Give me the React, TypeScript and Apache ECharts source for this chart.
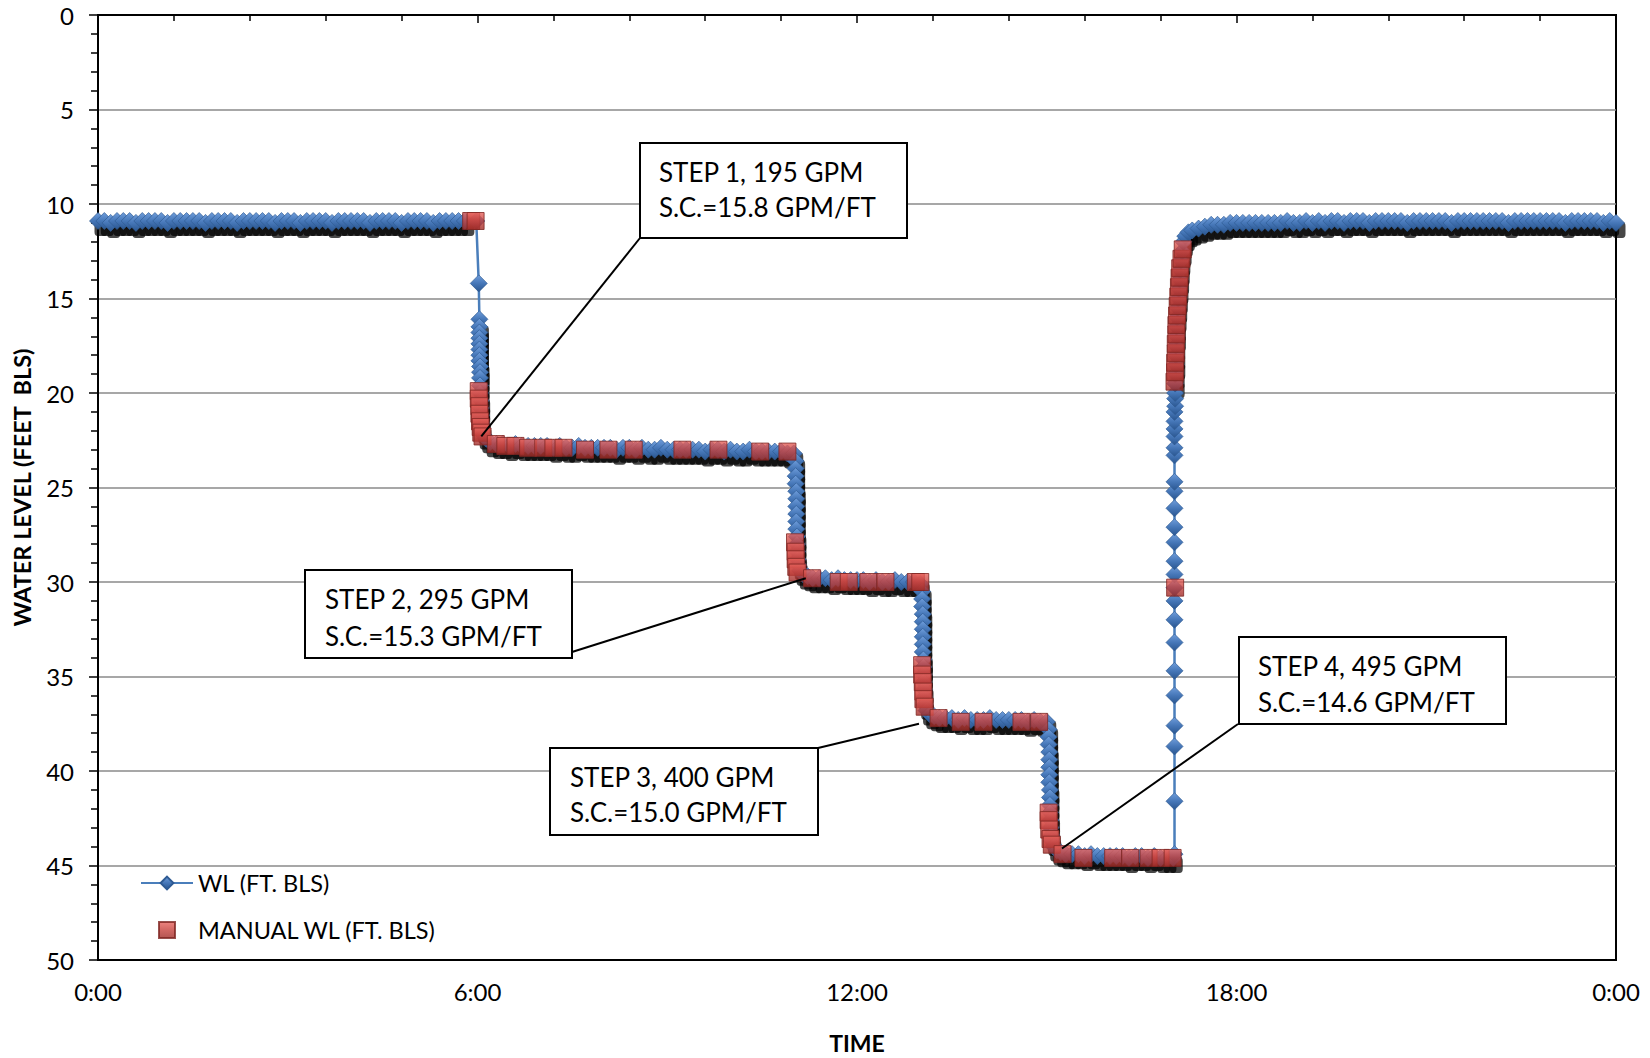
import React, { useEffect, useRef } from "react";
import * as echarts from "echarts";

// ---------- axis ticks ----------
const xTickHours = [0, 6, 12, 18, 24];
const xTickLabels = ["0:00", "6:00", "12:00", "18:00", "0:00"];
const yMin = 0;
const yMax = 50;
const yStep = 5;

// ---------- series names ----------
const seriesNames = ["WL (FT. BLS)", "MANUAL WL (FT. BLS)"];

// ---------- WL (transducer) readings [hour, ft bls] ----------
const wlPumpOff: [number, number][] = [
  [0.0, 10.9], [0.1, 10.9], [0.2, 11.0], [0.3, 10.9], [0.4, 10.9], [0.5, 10.9], [0.6, 11.0], [0.7, 10.9],
  [0.8, 10.9], [0.9, 10.9], [1.0, 10.9], [1.1, 11.0], [1.2, 10.9], [1.3, 10.9], [1.4, 10.9], [1.5, 10.9],
  [1.6, 10.9], [1.7, 11.0], [1.8, 10.9], [1.9, 10.9], [2.0, 10.9], [2.1, 10.9], [2.2, 11.0], [2.3, 10.9],
  [2.4, 10.9], [2.5, 10.9], [2.6, 10.9], [2.7, 10.9], [2.8, 11.0], [2.9, 10.9], [3.0, 10.9], [3.1, 10.9],
  [3.2, 11.0], [3.3, 10.9], [3.4, 10.9], [3.5, 10.9], [3.6, 10.9], [3.7, 11.0], [3.8, 10.9], [3.9, 10.9],
  [4.0, 10.9], [4.1, 10.9], [4.2, 10.9], [4.3, 11.0], [4.4, 10.9], [4.5, 10.9], [4.6, 10.9], [4.7, 10.9],
  [4.8, 11.0], [4.9, 10.9], [5.0, 10.9], [5.1, 10.9], [5.2, 10.9], [5.3, 11.0], [5.4, 10.9], [5.5, 10.9],
  [5.6, 10.9], [5.7, 10.9], [5.8, 10.9],
];
const wlPumpStartSparse: [number, number][] = [
  [5.98, 10.9], [6.02, 14.2], [6.03, 16.1],
];
const wlStep1: [number, number][] = [
  [6.03, 16.5], [6.03, 16.8], [6.03, 17.1], [6.03, 17.4], [6.03, 17.7], [6.03, 18.0], [6.03, 18.3],
  [6.04, 18.6], [6.04, 18.9], [6.04, 19.2], [6.04, 19.6], [6.04, 20.0], [6.05, 20.4], [6.05, 20.8],
  [6.05, 21.2], [6.06, 21.6], [6.07, 21.9], [6.09, 22.2], [6.13, 22.4], [6.2, 22.6],
  [6.3, 22.7], [6.4, 22.7], [6.5, 22.8], [6.6, 22.7], [6.7, 22.8], [6.8, 22.8], [6.9, 22.8], [7.0, 22.8],
  [7.1, 22.8], [7.2, 22.9], [7.3, 22.8], [7.4, 22.9], [7.5, 22.9], [7.6, 22.8], [7.7, 22.9], [7.8, 22.9],
  [7.9, 22.9], [8.0, 22.9], [8.1, 22.9], [8.2, 23.0], [8.3, 22.9], [8.4, 22.9], [8.5, 23.0], [8.6, 22.9],
  [8.7, 23.0], [8.8, 23.0], [8.9, 22.9], [9.0, 23.0], [9.1, 23.0], [9.2, 23.0], [9.3, 23.0], [9.4, 23.0],
  [9.5, 23.0], [9.6, 23.1], [9.7, 23.0], [9.8, 23.0], [9.9, 23.1], [10.0, 23.0], [10.1, 23.1], [10.2, 23.1],
  [10.3, 23.0], [10.4, 23.1], [10.5, 23.1], [10.6, 23.1], [10.7, 23.1], [10.8, 23.1], [10.9, 23.2], [11.0, 23.2],
];
const wlStep2: [number, number][] = [
  [11.03, 23.6], [11.03, 24.0], [11.03, 24.4], [11.03, 24.8], [11.04, 25.2], [11.04, 25.6], [11.04, 26.0],
  [11.04, 26.4], [11.04, 26.8], [11.04, 27.2], [11.05, 27.6], [11.05, 28.0], [11.05, 28.4], [11.06, 28.8],
  [11.07, 29.1], [11.1, 29.4], [11.15, 29.6], [11.22, 29.7], [11.3, 29.8],
  [11.4, 29.8], [11.5, 29.8], [11.6, 29.9], [11.7, 29.8], [11.8, 29.9], [11.9, 29.9], [12.0, 29.9],
  [12.1, 29.9], [12.2, 30.0], [12.3, 29.9], [12.4, 30.0], [12.5, 30.0], [12.6, 29.9], [12.7, 30.0],
  [12.8, 30.0], [12.9, 30.0], [13.0, 30.1],
];
const wlStep3: [number, number][] = [
  [13.03, 30.5], [13.03, 30.9], [13.03, 31.3], [13.04, 31.7], [13.04, 32.1], [13.04, 32.5], [13.04, 32.9],
  [13.04, 33.3], [13.04, 33.7], [13.05, 34.1], [13.05, 34.5], [13.05, 34.9], [13.05, 35.3], [13.06, 35.7],
  [13.06, 36.1], [13.07, 36.5], [13.1, 36.8], [13.15, 37.0], [13.22, 37.1], [13.3, 37.2],
  [13.4, 37.2], [13.5, 37.2], [13.6, 37.3], [13.7, 37.2], [13.8, 37.3], [13.9, 37.3], [14.0, 37.3],
  [14.1, 37.2], [14.2, 37.3], [14.3, 37.3], [14.4, 37.3], [14.5, 37.3], [14.6, 37.3], [14.7, 37.4],
  [14.8, 37.3], [14.9, 37.4], [15.0, 37.4],
];
const wlStep4: [number, number][] = [
  [15.03, 37.8], [15.03, 38.2], [15.03, 38.6], [15.04, 39.0], [15.04, 39.4], [15.04, 39.8], [15.04, 40.2],
  [15.04, 40.6], [15.05, 41.0], [15.05, 41.4], [15.05, 41.8], [15.05, 42.2], [15.06, 42.6], [15.06, 43.0],
  [15.07, 43.4], [15.08, 43.7], [15.11, 44.0], [15.16, 44.2], [15.22, 44.3], [15.3, 44.4],
  [15.4, 44.4], [15.5, 44.4], [15.6, 44.5], [15.7, 44.4], [15.8, 44.5], [15.9, 44.5], [16.0, 44.5],
  [16.1, 44.5], [16.2, 44.5], [16.3, 44.6], [16.4, 44.5], [16.5, 44.5], [16.6, 44.6], [16.7, 44.5],
  [16.8, 44.6], [16.9, 44.6], [17.0, 44.6],
];
const wlRecoverySparse: [number, number][] = [
  [17.02, 44.4], [17.02, 41.6], [17.02, 38.7], [17.02, 37.6], [17.02, 36.0], [17.02, 34.7], [17.02, 33.2],
  [17.02, 32.0], [17.02, 31.0], [17.02, 30.3], [17.02, 29.6], [17.02, 28.9], [17.02, 27.9], [17.02, 27.1],
  [17.02, 26.1], [17.02, 25.2], [17.02, 24.7], [17.02, 23.3], [17.02, 22.9], [17.02, 22.3], [17.02, 21.9],
  [17.02, 21.5], [17.02, 21.0], [17.03, 20.7], [17.03, 20.3], [17.03, 20.0],
];
const wlRecovery: [number, number][] = [
  [17.03, 19.5], [17.03, 19.0], [17.04, 18.5], [17.04, 18.0], [17.04, 17.5], [17.05, 17.0], [17.05, 16.5],
  [17.06, 16.0], [17.07, 15.5], [17.08, 15.0], [17.09, 14.5], [17.1, 14.0], [17.11, 13.5], [17.12, 13.0],
  [17.14, 12.5], [17.16, 12.0], [17.19, 11.7], [17.24, 11.5], [17.3, 11.4], [17.4, 11.3], [17.5, 11.2],
  [17.6, 11.1], [17.7, 11.1],
  [17.8, 11.1], [17.9, 11.0], [18.0, 11.0], [18.1, 11.0], [18.2, 11.0], [18.3, 11.0], [18.4, 11.0],
  [18.5, 11.0], [18.6, 11.0], [18.7, 11.0], [18.8, 10.9], [18.9, 11.0], [19.0, 11.0], [19.1, 10.9],
  [19.2, 11.0], [19.3, 10.9], [19.4, 11.0], [19.5, 10.9], [19.6, 10.9], [19.7, 11.0], [19.8, 10.9],
  [19.9, 10.9], [20.0, 10.9], [20.1, 11.0], [20.2, 10.9], [20.3, 10.9], [20.4, 10.9], [20.5, 10.9],
  [20.6, 10.9], [20.7, 11.0], [20.8, 10.9], [20.9, 10.9], [21.0, 10.9], [21.1, 10.9], [21.2, 10.9],
  [21.3, 10.9], [21.4, 11.0], [21.5, 10.9], [21.6, 10.9], [21.7, 10.9], [21.8, 10.9], [21.9, 10.9],
  [22.0, 10.9], [22.1, 10.9], [22.2, 10.9], [22.3, 11.0], [22.4, 10.9], [22.5, 10.9], [22.6, 10.9],
  [22.7, 10.9], [22.8, 10.9], [22.9, 10.9], [23.0, 10.9], [23.1, 10.9], [23.2, 11.0], [23.3, 10.9],
  [23.4, 10.9], [23.5, 10.9], [23.6, 10.9], [23.7, 10.9], [23.8, 11.0], [23.9, 10.9], [24.0, 11.0],
];

// ---------- MANUAL WL readings [hour, ft bls] ----------
const manualPumpOff: [number, number][] = [[5.9, 10.9], [5.97, 10.9]];
const manualStep1: [number, number][] = [
  [6.02, 19.9], [6.02, 20.3], [6.03, 20.7], [6.03, 21.1], [6.04, 21.5], [6.05, 21.8], [6.06, 22.1], [6.08, 22.3],
  [6.29, 22.7], [6.44, 22.8], [6.6, 22.8], [6.8, 22.9], [7.04, 22.9], [7.2, 22.9], [7.36, 22.9], [7.7, 23.0],
  [8.07, 23.0], [8.47, 23.0], [9.24, 23.0], [9.81, 23.0], [10.47, 23.1], [10.9, 23.1],
];
const manualStep2: [number, number][] = [
  [11.02, 27.9], [11.03, 28.4], [11.03, 28.8], [11.04, 29.2], [11.06, 29.5], [11.29, 29.8],
  [11.71, 30.0], [11.87, 30.0], [12.18, 30.0], [12.45, 30.0], [12.93, 30.0], [13.0, 30.0],
];
const manualStep3: [number, number][] = [
  [13.03, 34.4], [13.03, 34.9], [13.04, 35.3], [13.05, 35.8], [13.05, 36.2], [13.07, 36.6],
  [13.29, 37.2], [13.64, 37.4], [14.0, 37.4], [14.6, 37.4], [14.88, 37.4],
];
const manualStep4: [number, number][] = [
  [15.03, 42.2], [15.03, 42.6], [15.04, 43.1], [15.06, 43.6], [15.08, 43.9], [15.25, 44.4],
  [15.58, 44.6], [16.05, 44.6], [16.32, 44.6], [16.61, 44.6], [16.8, 44.6], [16.99, 44.6],
];
const manualRecovery: [number, number][] = [
  [17.03, 30.3], [17.02, 19.4], [17.03, 18.9], [17.03, 18.4], [17.04, 17.9], [17.04, 17.4], [17.05, 16.9],
  [17.05, 16.4], [17.06, 15.9], [17.07, 15.4], [17.08, 14.9], [17.09, 14.4], [17.1, 13.9], [17.11, 13.4],
  [17.13, 12.9], [17.15, 12.4],
];

// ---------- annotations ----------
const annotationTexts: [string, string][] = [
  ["STEP 1, 195 GPM", "S.C.=15.8 GPM/FT"],
  ["STEP 2, 295 GPM", "S.C.=15.3 GPM/FT"],
  ["STEP 3, 400 GPM", "S.C.=15.0 GPM/FT"],
  ["STEP 4, 495 GPM", "S.C.=14.6 GPM/FT"],
];
const annotationTargets: [number, number][] = [
  [6.06, 22.3],
  [11.19, 29.8],
  [12.98, 37.5],
  [15.24, 44.1],
];

// layout of annotation boxes (page pixel coords)
const boxLayout = [
  { x: 640, y: 143, w: 267, h: 95, tx: 659, l1: 172, l2: 207, ax: 640, ay: 238 },
  { x: 305, y: 570, w: 267, h: 88, tx: 325, l1: 599, l2: 636, ax: 572, ay: 652 },
  { x: 550, y: 748, w: 268, h: 87, tx: 570, l1: 777, l2: 812, ax: 818, ay: 748 },
  { x: 1239, y: 637, w: 267, h: 87, tx: 1258, l1: 666, l2: 702, ax: 1238, ay: 724 },
];

const FONT = "Lato, 'Open Sans', sans-serif";

export default function App() {
  const ref = useRef<HTMLDivElement>(null);

  useEffect(() => {
    const chart = echarts.init(ref.current!, null, { renderer: "svg" });

    const wlSegments: { pts: [number, number][]; shadow: boolean }[] = [
      { pts: wlPumpOff, shadow: true },
      { pts: wlPumpStartSparse, shadow: false },
      { pts: wlStep1, shadow: true },
      { pts: wlStep2, shadow: true },
      { pts: wlStep3, shadow: true },
      { pts: wlStep4, shadow: true },
      { pts: wlRecoverySparse, shadow: false },
      { pts: wlRecovery, shadow: true },
    ];
    const wlData = wlSegments.flatMap((s) => s.pts);
    const wlShadowData = wlSegments.filter((s) => s.shadow).flatMap((s) => s.pts);
    const manualData = [
      ...manualPumpOff,
      ...manualStep1,
      ...manualStep2,
      ...manualStep3,
      ...manualStep4,
      ...manualRecovery,
    ];

    const blueFill = {
      type: "linear", x: 0, y: 0, x2: 0, y2: 1,
      colorStops: [
        { offset: 0, color: "#6f9ddb" },
        { offset: 0.5, color: "#4677b8" },
        { offset: 1, color: "#2a5690" },
      ],
    };
    const redFill = {
      type: "linear", x: 0, y: 0, x2: 0, y2: 1,
      colorStops: [
        { offset: 0, color: "#e8655f" },
        { offset: 0.45, color: "#c9443f" },
        { offset: 1, color: "#a02c28" },
      ],
    };

    chart.setOption({
      animation: false,
      backgroundColor: "#ffffff",
      grid: {
        left: 98, top: 15, width: 1518, height: 945,
        outerBoundsMode: "none",
        containLabel: false,
        show: true, borderColor: "#000", borderWidth: 2, backgroundColor: "transparent",
      },
      legend: {
        orient: "vertical",
        left: 140,
        top: 871,
        padding: 0,
        itemWidth: 52,
        itemHeight: 16,
        itemGap: 23,
        textStyle: { fontFamily: FONT, fontSize: 23.5, color: "#000" },
        data: [
          { name: seriesNames[0] },
          { name: seriesNames[1], icon: "path://M0,0H10V10H0Z" },
        ],
      },
      tooltip: { show: false },
      xAxis: {
        type: "value",
        min: xTickHours[0],
        max: xTickHours[xTickHours.length - 1],
        interval: 6,
        name: "TIME",
        nameLocation: "middle",
        nameGap: 71,
        nameTextStyle: { fontFamily: FONT, fontSize: 23, fontWeight: "bold", color: "#000" },
        axisLine: { show: true, lineStyle: { color: "#000", width: 2 } },
        axisTick: { show: true, length: 8, lineStyle: { color: "#000", width: 1.5 } },
        minorTick: { show: true, splitNumber: 5, length: 6, lineStyle: { color: "#000", width: 1.5 } },
        splitLine: { show: false },
        axisLabel: {
          margin: 19,
          fontFamily: FONT,
          fontSize: 24,
          color: "#000",
          formatter: (v: number) => {
            const i = xTickHours.findIndex((h) => Math.abs(h - v) < 1e-6);
            return i >= 0 ? xTickLabels[i] : "";
          },
        },
      },
      yAxis: {
        type: "value",
        inverse: true,
        min: yMin,
        max: yMax,
        interval: yStep,
        name: "WATER LEVEL (FEET  BLS)",
        nameLocation: "middle",
        nameGap: 64,
        nameRotate: 90,
        nameTextStyle: { fontFamily: FONT, fontSize: 23.5, fontWeight: "bold", color: "#000" },
        axisLine: { show: true, lineStyle: { color: "#000", width: 2 } },
        axisTick: { show: true, length: 9, lineStyle: { color: "#000", width: 1.5 } },
        minorTick: { show: true, splitNumber: 5, length: 7, lineStyle: { color: "#000", width: 1.5 } },
        splitLine: { show: true, showMinLine: false, showMaxLine: false, lineStyle: { color: "#8a8a8a", width: 1.5 } },
        axisLabel: { margin: 24, fontFamily: FONT, fontSize: 24, color: "#000" },
      },
      series: [
        {
          // drop shadow under the logger trace (styling only, same readings)
          name: "WL shadow",
          type: "scatter",
          data: wlShadowData,
          symbol: "roundRect",
          symbolSize: [13, 16],
          symbolOffset: [3, 7],
          clip: false,
          silent: true,
          itemStyle: { color: "rgba(0,0,0,0.9)" },
          emphasis: { disabled: true },
          z: 1,
        },
        {
          name: seriesNames[0],
          type: "line",
          data: wlData,
          symbol: "diamond",
          symbolSize: 17,
          showSymbol: true,
          showAllSymbol: true,
          clip: false,
          lineStyle: { color: "#4a7ebb", width: 2.5 },
          itemStyle: {
            color: blueFill,
            borderColor: "#2f5b94",
            borderWidth: 0.7,
          },
          emphasis: { disabled: true },
          z: 2,
        },
        {
          name: seriesNames[1],
          type: "scatter",
          data: manualData,
          symbol: "rect",
          symbolSize: 17,
          clip: false,
          itemStyle: { color: redFill, borderColor: "#7e2522", borderWidth: 1 },
          emphasis: { disabled: true },
          z: 3,
        },
      ],
    });

    const graphics: any[] = [];
    boxLayout.forEach((b, i) => {
      const p = chart.convertToPixel({ gridIndex: 0 }, annotationTargets[i]) as number[];
      graphics.push({
        type: "line", z: 100,
        shape: { x1: b.ax, y1: b.ay, x2: p[0], y2: p[1] },
        style: { stroke: "#000", lineWidth: 2 },
      });
      graphics.push({
        type: "rect", z: 101,
        shape: { x: b.x, y: b.y, width: b.w, height: b.h },
        style: { fill: "#fff", stroke: "#000", lineWidth: 2 },
      });
      graphics.push({
        type: "text", z: 102, x: b.tx, y: b.l1,
        style: { text: annotationTexts[i][0], fontFamily: FONT, fontSize: 26, fill: "#000", align: "left", verticalAlign: "middle" },
      });
      graphics.push({
        type: "text", z: 102, x: b.tx, y: b.l2,
        style: { text: annotationTexts[i][1], fontFamily: FONT, fontSize: 26, fill: "#000", align: "left", verticalAlign: "middle" },
      });
    });
    chart.setOption({ graphic: graphics });

    return () => chart.dispose();
  }, []);

  return (
    <div
      ref={ref}
      style={{ position: "absolute", left: 0, top: 0, width: 1650, height: 1058 }}
    />
  );
}
